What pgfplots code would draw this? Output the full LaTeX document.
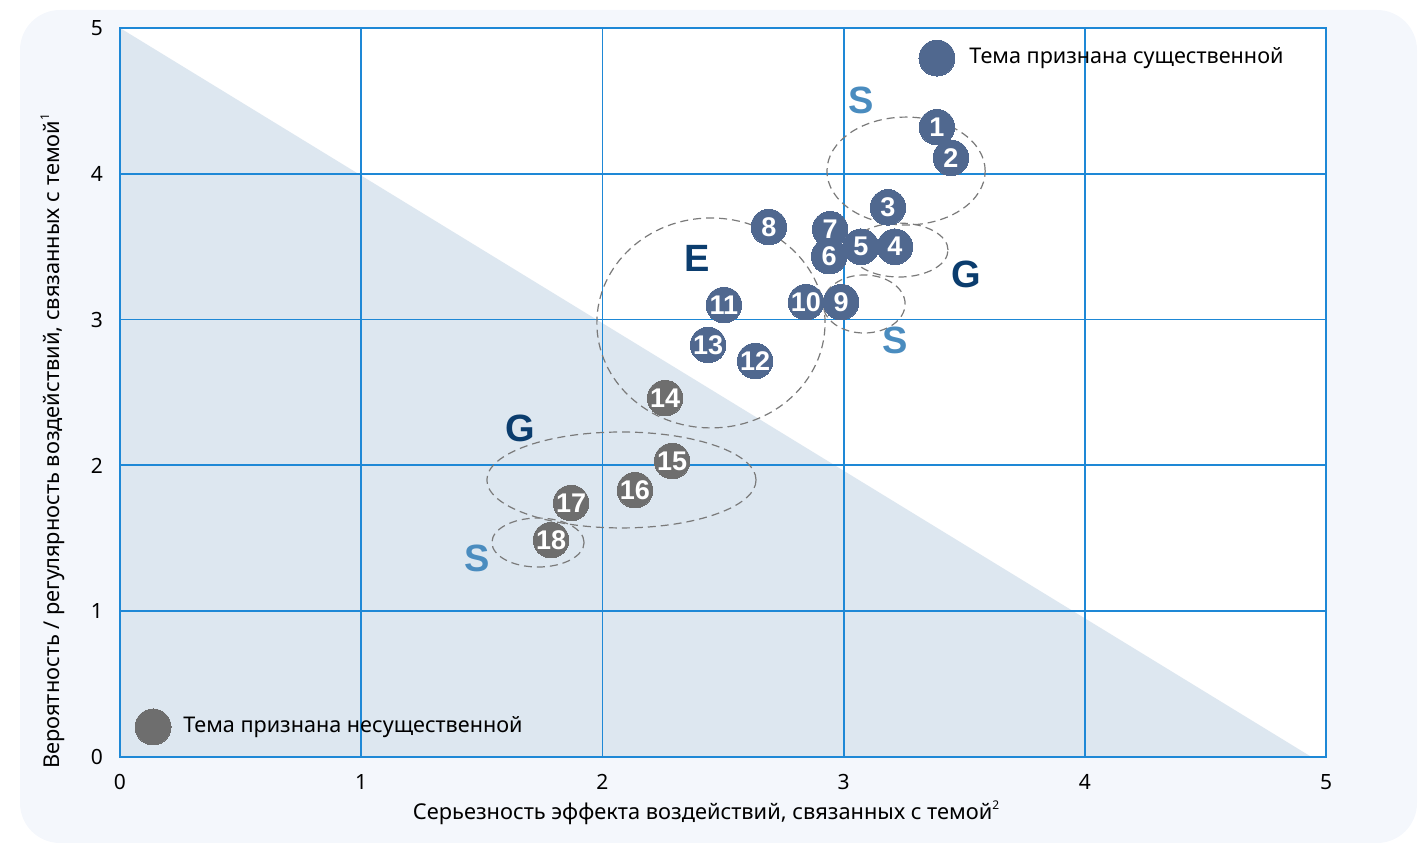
\documentclass[border=0pt]{standalone}
\usepackage{fontspec}
\setmainfont{Noto Sans}
\newfontfamily\numfont{Liberation Sans}
\usepackage{pgfplots}
\pgfplotsset{compat=1.18}
\usepackage{pgfplotstable}
\definecolor{bgcol}{HTML}{F4F7FC}
\definecolor{tricol}{HTML}{DDE7F0}
\definecolor{gridcol}{HTML}{1E88D6}
\definecolor{bluept}{HTML}{50688F}
\definecolor{graypt}{HTML}{6E6E6E}
\definecolor{lightS}{HTML}{4A8CBF}
\definecolor{navy}{HTML}{0B3D6E}
\definecolor{dashcol}{HTML}{7A7A7A}
\newcommand{\sups}[1]{\raisebox{0.85ex}{\fontsize{6}{6}\selectfont #1}}

\pgfplotstableread{
x y lab
3.387 4.32 1
3.445 4.11 2
3.184 3.77 3
2.944 3.62 7
2.94 3.435 6
3.072 3.50 5
3.213 3.50 4
2.69 3.635 8
2.844 3.12 10
2.99 3.12 9
2.504 3.10 11
2.438 2.826 13
2.633 2.716 12
}\bluetab

\pgfplotstableread{
x y lab
2.26 2.462 14
2.289 2.03 15
2.135 1.83 16
1.87 1.742 17
1.787 1.488 18
}\graytab

\begin{document}
\begin{tikzpicture}
\fill[bgcol, rounded corners=20pt] (10pt,1pt) rectangle (708.5pt,417.5pt);
\path[use as bounding box] (0,0) rectangle (714pt,422.5pt);
\begin{axis}[
  at={(60pt,44pt)}, anchor=south west,
  scale only axis, width=603pt, height=364.5pt,
  xmin=0, xmax=5, ymin=0, ymax=5,
  xtick={0,1,2,3,4,5}, ytick={0,1,2,3,4,5},
  axis background/.style={fill=white},
  major tick length=0pt,
  axis line style={draw=none},
  tick label style={font=\fontsize{10.5}{12}\selectfont},
  /pgf/number format/assume math mode=true,
  xticklabel style={yshift=-5pt},
  yticklabel style={xshift=-5pt},
  xlabel={Серьезность эффекта воздействий, связанных с темой\sups{2}},
  ylabel={Вероятность / регулярность воздействий, связанных с темой\sups{1}},
  xlabel style={at={(axis description cs:0.486,-0.077)}, anchor=center, font=\fontsize{10.9}{12}\selectfont},
  ylabel style={at={(axis description cs:-0.056,0.433)}, anchor=center, font=\fontsize{10.9}{12}\selectfont},
  clip=false,
]
% triangle
\addplot[fill=tricol, draw=none] coordinates {(0,5) (4.94,0) (0,0)} -- cycle;
% grid and frame drawn over the triangle
\addplot[gridcol, line width=0.9pt, forget plot] coordinates {(1,0) (1,5)};
\addplot[gridcol, line width=0.9pt, forget plot] coordinates {(2,0) (2,5)};
\addplot[gridcol, line width=0.9pt, forget plot] coordinates {(3,0) (3,5)};
\addplot[gridcol, line width=0.9pt, forget plot] coordinates {(4,0) (4,5)};
\addplot[gridcol, line width=0.9pt, forget plot] coordinates {(0,1) (5,1)};
\addplot[gridcol, line width=0.9pt, forget plot] coordinates {(0,2) (5,2)};
\addplot[gridcol, line width=0.9pt, forget plot] coordinates {(0,3) (5,3)};
\addplot[gridcol, line width=0.9pt, forget plot] coordinates {(0,4) (5,4)};
\addplot[gridcol, line width=0.9pt, forget plot] coordinates {(0,0) (5,0) (5,5) (0,5)} -- cycle;

% dashed group ellipses
\begin{scope}[dashcol, dash pattern=on 4pt off 2.5pt, line width=0.6pt]
\draw (axis cs:3.259,4.019) ellipse [x radius=0.328, y radius=0.370];
\draw (axis cs:3.23,3.477) ellipse [x radius=0.203, y radius=0.185];
\draw (axis cs:3.085,3.107) ellipse [x radius=0.170, y radius=0.199];
\draw (axis cs:2.450,2.977) ellipse [x radius=0.473, y radius=0.72];
\draw (axis cs:2.079,1.90) ellipse [x radius=0.558, y radius=0.329];
\draw (axis cs:1.733,1.471) ellipse [x radius=0.191, y radius=0.168];
\end{scope}

\addplot[only marks, mark=*, mark size=8.9pt, mark options={fill=bluept, draw=bluept, line width=0pt},
  nodes near coords, nodes near coords align=center,
  every node near coord/.append style={font=\numfont\bfseries\fontsize{13.5}{13.5}\selectfont, text=white, anchor=center, inner sep=0pt},
  point meta=explicit symbolic] table[x=x,y=y,meta=lab] {\bluetab};
\addplot[only marks, mark=*, mark size=8.9pt, mark options={fill=graypt, draw=graypt, line width=0pt},
  nodes near coords, nodes near coords align=center,
  every node near coord/.append style={font=\numfont\bfseries\fontsize{13.5}{13.5}\selectfont, text=white, anchor=center, inner sep=0pt},
  point meta=explicit symbolic] table[x=x,y=y,meta=lab] {\graytab};

% legend markers
\addplot[only marks, mark=*, mark size=9pt, mark options={fill=bluept, draw=bluept, line width=0pt}] coordinates {(3.387,4.794)};
\addplot[only marks, mark=*, mark size=9pt, mark options={fill=graypt, draw=graypt, line width=0pt}] coordinates {(0.137,0.206)};
\node[anchor=west, inner sep=0pt, font=\fontsize{10.8}{12}\selectfont] at (axis cs:3.52,4.794) {Тема признана существенной};
\node[anchor=west, inner sep=0pt, font=\fontsize{10.8}{12}\selectfont] at (axis cs:0.261,0.206) {Тема признана несущественной};

% ESG letters
\begin{scope}[font=\numfont\bfseries\fontsize{19}{19}\selectfont]
\node[text=lightS] at (axis cs:3.072,4.50) {S};
\node[text=navy] at (axis cs:3.507,3.313) {G};
\node[text=lightS] at (axis cs:3.213,2.86) {S};
\node[text=navy] at (axis cs:2.392,3.42) {E};
\node[text=navy] at (axis cs:1.658,2.257) {G};
\node[text=lightS] at (axis cs:1.48,1.365) {S};
\end{scope}
\end{axis}
\end{tikzpicture}
\end{document}
